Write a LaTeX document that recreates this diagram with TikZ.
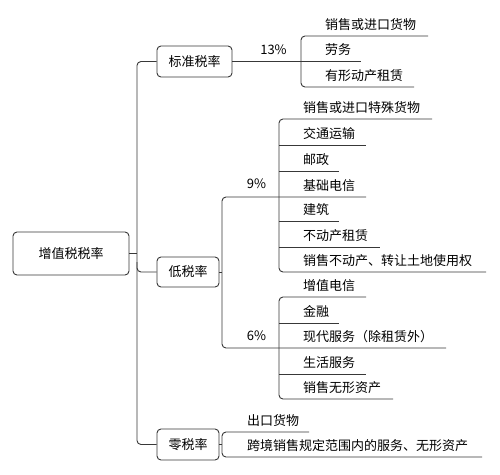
\documentclass[tikz,border=0pt]{standalone}
\usepackage{fontspec}
\newfontfamily\cjk{Noto Sans CJK SC}
\begin{document}
\begin{tikzpicture}[x=1pt,y=-1pt,
  ln/.style={draw=black!78, line width=0.9pt},
  br/.style={draw=black!78, line width=0.9pt, rounded corners=4pt},
  box/.style={draw=black!78, line width=0.9pt, rounded corners=4pt, inner sep=0pt,
    font=\cjk\fontsize{13}{15}\selectfont, text=black},
  leaf/.style={anchor=west, inner sep=0pt, font=\cjk\fontsize{13}{15}\selectfont, text=black},
  rate/.style={inner sep=0pt, font=\cjk\fontsize{13}{15}\selectfont, text=black}]
\useasboundingbox (0,0) rectangle (500,474);
\fill[white] (0,0) rectangle (500,474);
% boxes
\node[box, minimum width=116pt, minimum height=43pt] (root) at (71,253.5) {增值税税率};
\node[box, minimum width=75pt, minimum height=31pt] (std) at (194.5,61.5) {标准税率};
\node[box, minimum width=62pt, minimum height=30pt] (low) at (188,272) {低税率};
\node[box, minimum width=62pt, minimum height=31pt] (zero) at (188,444.5) {零税率};
% spine
\coordinate (sp) at (137,253.5);
\coordinate (spt) at (137,61.5);
\coordinate (spb) at (137,444.5);
\coordinate (spl) at (137,272);
\draw[ln] (root.east) -- (sp);
\draw[br] (std.west) -- (spt) -- (spb) -- (zero.west);
\draw[br] (137,262) -- (spl) -- (low.west);
% 13%
\node[rate] (p13) at (273.5,50) {13\%};
\coordinate (b13) at (301,61.5);
\draw[ln] (std.east) -- (361,61.5);
\draw[br] (428,36) -- (301,36) -- (301,87) -- (414,87);
\node[leaf] (s1) at (325,24.5) {销售或进口货物};
\node[leaf] (s2) at (325,50) {劳务};
\node[leaf] (s3) at (325,75.5) {有形动产租赁};
% low bracket
\coordinate (bl) at (222,272);
\draw[ln] (low.east) -- (bl);
\draw[br] (366,197) -- (222,197) -- (222,348) -- (446,348);
\node[rate] (p9) at (256.5,184) {9\%};
\node[rate] (p6) at (256.5,336) {6\%};
% 9% leaves
\draw[br] (432,119) -- (279,119) -- (279,272) -- (486,272);
\draw[ln] (279,145) -- (366,145);
\draw[ln] (279,171) -- (339,171);
\draw[ln] (279,221) -- (339,221);
\draw[ln] (279,247) -- (380,247);
\node[leaf] (n1) at (303,107.5) {销售或进口特殊货物};
\node[leaf] (n2) at (303,133.5) {交通运输};
\node[leaf] (n3) at (303,159.5) {邮政};
\node[leaf] (n4) at (303,185.5) {基础电信};
\node[leaf] (n5) at (303,209.5) {建筑};
\node[leaf] (n6) at (303,235.5) {不动产租赁};
\node[leaf] (n7) at (303,260.5) {销售不动产、转让土地使用权};
% 6% leaves
\draw[br] (366,297) -- (279,297) -- (279,399) -- (393,399);
\draw[ln] (279,323) -- (339,323);
\draw[ln] (279,374) -- (366,374);
\node[leaf] (m1) at (303,285.5) {增值电信};
\node[leaf] (m2) at (303,311.5) {金融};
\node[leaf] (m3) at (303,336.5) {现代服务（除租赁外）};
\node[leaf] (m4) at (303,362.5) {生活服务};
\node[leaf] (m5) at (303,387.5) {销售无形资产};
% zero
\coordinate (bz) at (222,444.5);
\draw[ln] (zero.east) -- (bz);
\draw[br] (309,432) -- (222,432) -- (222,457) -- (482,457);
\node[leaf] (z1) at (247,420.5) {出口货物};
\node[leaf] (z2) at (247,445.5) {跨境销售规定范围内的服务、无形资产};
\end{tikzpicture}
\end{document}
